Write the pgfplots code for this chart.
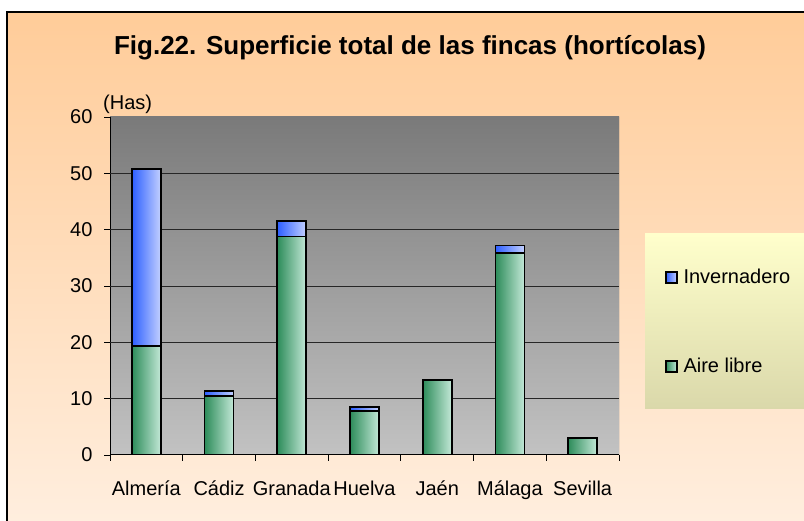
\documentclass[border=0pt]{standalone}
\usepackage{pgfplots}
\pgfplotsset{compat=1.18}
\usepackage{fontspec}
\setmainfont{Liberation Sans}
\definecolor{bgtop}{RGB}{255,204,153}
\definecolor{bgbot}{RGB}{255,238,222}
\definecolor{patop}{RGB}{122,122,122}
\definecolor{pabot}{RGB}{194,194,194}
\definecolor{gdark}{RGB}{45,140,90}
\definecolor{glight}{RGB}{195,232,215}
\definecolor{bdark}{RGB}{45,95,255}
\definecolor{blight}{RGB}{195,208,255}
\definecolor{lgtop}{RGB}{255,255,204}
\definecolor{lgbot}{RGB}{218,216,170}
\pgfplotsset{
  bbar/.style={draw=black, line width=1.8pt, left color=bdark, right color=blight},
  gbar/.style={draw=black, line width=1.8pt, left color=gdark, right color=glight},
}
\begin{document}
\begin{tikzpicture}
\useasboundingbox (0pt,0pt) rectangle (804pt,521pt);
\fill[white] (0pt,0pt) rectangle (804pt,521pt);
\shade[top color=bgtop,bottom color=bgbot] (7pt,0pt) rectangle (804pt,509pt);
\draw[line width=1.2pt] (7pt,0pt) -- (7pt,509pt) -- (804pt,509pt);
\shade[top color=lgtop,bottom color=lgbot] (645pt,112pt) rectangle (804pt,287pt);
\node[font=\bfseries\fontsize{26}{30}\selectfont, anchor=base] at (410pt,466pt) {Fig.22. Superficie total de las fincas (hortícolas)};
\begin{axis}[
  at={(110pt,66pt)}, anchor=south west, scale only axis,
  width=509pt, height=338pt,
  xmin=-0.5, xmax=6.5, ymin=0, ymax=60,
  ytick={0,10,...,60},
  xtick={0,...,6},
  xticklabels={Almería,Cádiz,Granada,Huelva,Jaén,Málaga,Sevilla},
  major x tick style={draw=none},
  minor xtick={-0.5,0.5,...,6.5},
  tick align=outside, major tick length=6pt, minor tick length=6pt,
  tick style={black, line width=0.8pt},
  axis x line*=bottom, axis y line*=left,
  axis line style={black, line width=1pt, -},
  extra y ticks={10,20,30,40,50},
  extra y tick labels={},
  extra y tick style={grid=major, tick style={draw=none}},
  grid style={black!85, line width=0.7pt},
  axis background/.style={top color=patop, bottom color=pabot},
  ybar, bar width=29pt, bar shift=0pt,
  ticklabel style={font=\fontsize{20}{24}\selectfont},
  yticklabel style={xshift=-8pt},
  xticklabel style={yshift=-16pt},
  /pgf/number format/assume math mode=true,
  legend style={at={(axis description cs:1.09,0.3935)}, anchor=west,
    draw=none, fill=none, font=\fontsize{20}{24}\selectfont,
    row sep=69pt, inner sep=0pt},
  legend cell align=left,
  legend image code/.code={\draw[#1, line width=1.5pt] (0pt,-5.5pt) rectangle (11pt,5.5pt);},
]
\addplot[bbar] coordinates {(0,50.8)};
\addplot[bbar, forget plot] coordinates {(1,11.4)};
\addplot[bbar, forget plot] coordinates {(2,41.5)};
\addplot[bbar, forget plot] coordinates {(3,8.5)};
\addplot[bbar, forget plot] coordinates {(5,37.2)};
\addplot[gbar] coordinates {(0,19.3)};
\addplot[gbar, forget plot] coordinates {(1,10.5)};
\addplot[gbar, forget plot] coordinates {(2,38.8)};
\addplot[gbar, forget plot] coordinates {(3,7.8)};
\addplot[gbar, forget plot] coordinates {(4,13.3)};
\addplot[gbar, forget plot] coordinates {(5,35.9)};
\addplot[gbar, forget plot] coordinates {(6,3.0)};
\legend{\hspace{4pt}Invernadero,\hspace{4pt}Aire libre}
\draw[gray, line width=1pt] (rel axis cs:1,0) -- (rel axis cs:1,1);
\end{axis}
\node[font=\fontsize{20}{24}\selectfont, anchor=base west, inner sep=0pt] at (103pt,411pt) {(Has)};
\end{tikzpicture}
\end{document}
